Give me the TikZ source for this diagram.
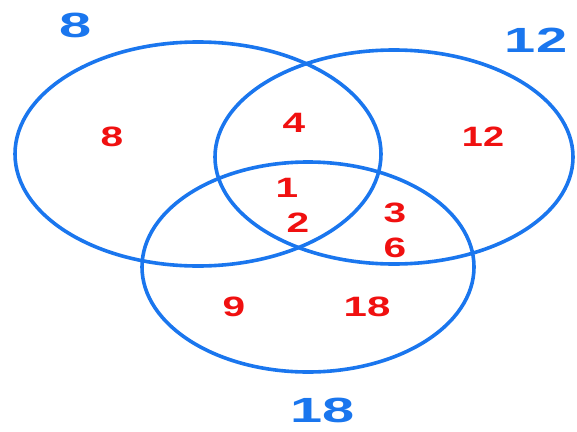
\documentclass[tikz,border=0pt]{standalone}
\usepackage{fontspec}
\setmainfont{Liberation Sans}
\usepackage{graphicx}
\usepackage{tikz}
\usetikzlibrary{positioning}
\definecolor{SetBlue}{RGB}{26,118,238}
\definecolor{CountRed}{RGB}{240,16,16}
\newcommand{\widen}[2]{\scalebox{#1}[1]{#2}}

\begin{document}
\begin{tikzpicture}[x=1pt, y=-1pt,
		setring/.style={draw=SetBlue, line width=3.6pt},
		settitle/.style={text=SetBlue, font=\fontsize{35}{35}\selectfont\bfseries, inner sep=0pt},
		regcount/.style={text=CountRed, font=\fontsize{28}{28}\selectfont\bfseries, inner sep=0pt}]
		\useasboundingbox (0,0) rectangle (577,431);
		
		% 三个集合 (椭圆)
		\coordinate (cA) at (198,154);
		\coordinate (cB) at (394,157);
		\coordinate (cC) at (308,267);
		\draw[setring] (cA) ellipse [x radius=183, y radius=112];
		\draw[setring] (cB) ellipse [x radius=179, y radius=107];
		\draw[setring] (cC) ellipse [x radius=166, y radius=105];
		
		% 集合名
		\node[settitle] (tA) at (76,25) {\widen{1.65}{8}};
		\node[settitle] (tB) at (536,40) {\widen{1.6}{12}};
		\node[settitle] (tC) at (323,410) {\widen{1.65}{18}};
		
		% 各区域的数
		\node[regcount] (onlyA) at (112,137) {\widen{1.45}{8}};
		\node[regcount] (AB) at (294,123) {\widen{1.45}{4}};
		\node[regcount] (onlyB) at (483,137) {\widen{1.35}{12}};
		\node[regcount] (ABCa) at (287,188) {\widen{1.45}{1}};
		\node[regcount] (ABCb) at (298,223) {\widen{1.45}{2}};
		\node[regcount] (BCa) at (395,213) {\widen{1.45}{3}};
		\node[regcount] (BCb) at (395,248) {\widen{1.45}{6}};
		\node[regcount] (AC) at (234,307) {\widen{1.45}{9}};
		\node[regcount] (onlyC) at (367,307) {\widen{1.5}{18}};
	\end{tikzpicture}
\end{document}
